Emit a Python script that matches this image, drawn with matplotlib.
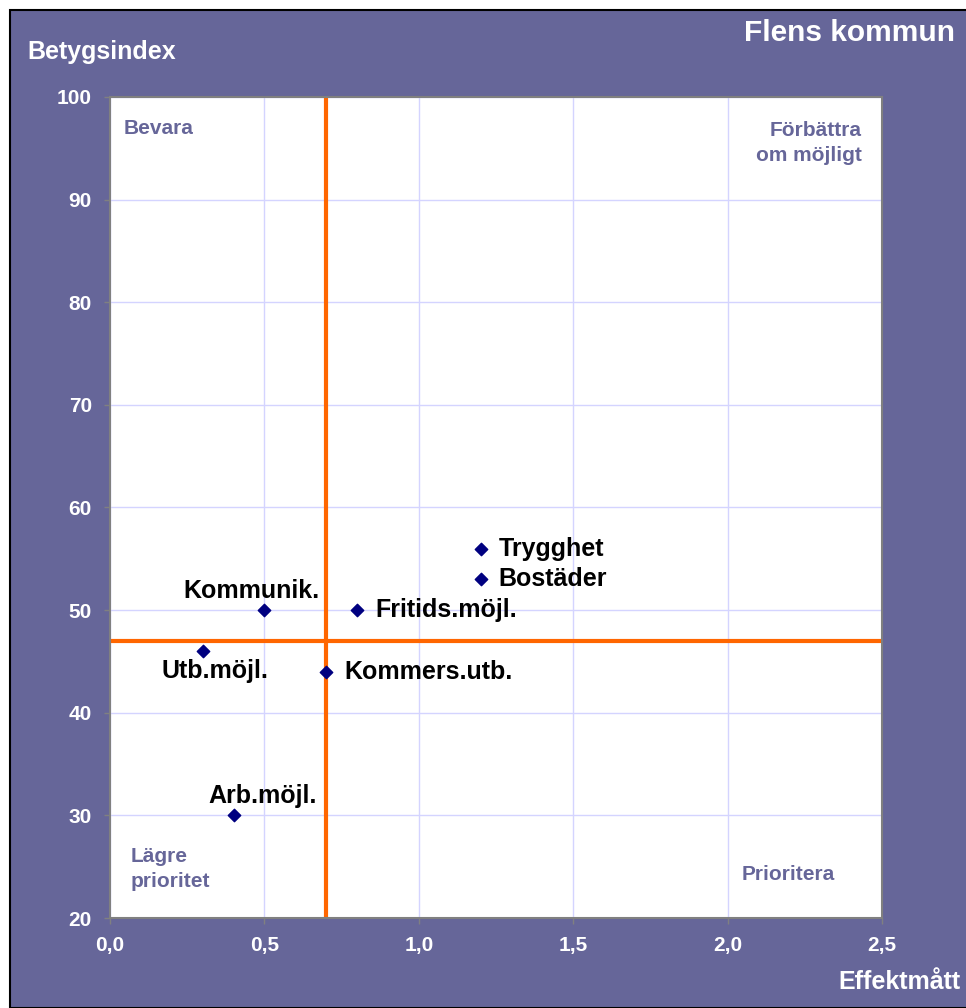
import matplotlib.pyplot as plt
from matplotlib.patches import Rectangle

plt.rcParams['font.family'] = ['Liberation Sans', 'DejaVu Sans']
plt.rcParams['font.weight'] = 'bold'

# data
labels = ["Trygghet", "Bostäder", "Kommunik.", "Fritids.möjl.", "Utb.möjl.", "Kommers.utb.", "Arb.möjl."]
effekt = [1.2, 1.2, 0.5, 0.8, 0.3, 0.7, 0.4]
betyg = [56, 53, 50, 50, 46, 44, 30]
mean_x = 0.7
mean_y = 47
xticks = [0.0, 0.5, 1.0, 1.5, 2.0, 2.5]
yticks = [20, 30, 40, 50, 60, 70, 80, 90, 100]

BG = "#666699"
ORANGE = "#FF6600"
NAVY = "#000080"
GRID = "#D4D4FF"

W, H = 966, 1008
fig = plt.figure(figsize=(W / 100, H / 100), dpi=100)
fig.patch.set_facecolor("white")
bg = Rectangle((10 / W, 0), 1, 1 - 10 / H, transform=fig.transFigure,
               facecolor=BG, edgecolor="black", linewidth=1.5, zorder=-10)
fig.add_artist(bg)

ax = fig.add_axes([110 / W, 1 - 918 / H, (882 - 110) / W, (918 - 97) / H])
ax.set_zorder(5)
ax.set_facecolor("white")
ax.set_xlim(0, 2.5)
ax.set_ylim(20, 100)
ax.set_xticks(xticks)
ax.set_yticks(yticks)
ax.set_xticklabels([f"{v:.1f}".replace(".", ",") for v in xticks])
ax.set_yticklabels([str(v) for v in yticks])
ax.tick_params(colors="#808080", labelcolor="white", labelsize=15, length=4, width=1)
ax.tick_params(axis="x", pad=9)
ax.tick_params(axis="y", pad=9)
for lab in ax.get_xticklabels() + ax.get_yticklabels():
    lab.set_fontweight("bold")
ax.grid(True, color=GRID, linewidth=1)
ax.set_axisbelow(True)
for s in ax.spines.values():
    s.set_color("#808080")
    s.set_linewidth(1.5)

ax.axvline(mean_x, color=ORANGE, linewidth=3, zorder=2)
ax.axhline(mean_y, color=ORANGE, linewidth=3, zorder=2)
ax.scatter(effekt, betyg, marker="D", s=40, color=NAVY, zorder=3)

# label offsets (points)
offsets = {
    "Trygghet": (13, 0, "left", "center"),
    "Bostäder": (13, 0, "left", "center"),
    "Kommunik.": (40, 14, "right", "center"),
    "Fritids.möjl.": (13, 0, "left", "center"),
    "Utb.möjl.": (47, -14, "right", "center"),
    "Kommers.utb.": (13, 0, "left", "center"),
    "Arb.möjl.": (60, 14, "right", "center"),
}
for name, x, y in zip(labels, effekt, betyg):
    dx, dy, ha, va = offsets[name]
    ax.annotate(name, (x, y), xytext=(dx, dy), textcoords="offset points",
                ha=ha, va=va, fontsize=18, fontweight="bold", color="black", zorder=4)

qkw = dict(fontsize=15, fontweight="bold", color=BG, transform=ax.transAxes)
ax.text(14 / 772, 1 - 31 / 821, "Bevara", ha="left", va="center", **qkw)
ax.text(1 - 20 / 772, 1 - 46 / 821, "Förbättra\nom möjligt", ha="right", va="center",
        linespacing=1.35, **qkw)
ax.text(21 / 772, 1 - 772 / 821, "Lägre\nprioritet", ha="left", va="center",
        linespacing=1.35, **qkw)
ax.text(1 - 47 / 772, 1 - 778 / 821, "Prioritera", ha="right", va="center", **qkw)

fig.text(27 / W, 1 - 52 / H, "Betygsindex", ha="left", va="center",
         fontsize=18, fontweight="bold", color="white")
fig.text(955 / W, 1 - 33 / H, "Flens kommun", ha="right", va="center",
         fontsize=21.5, fontweight="bold", color="white")
fig.text(960 / W, 1 - 982 / H, "Effektmått", ha="right", va="center",
         fontsize=18, fontweight="bold", color="white")

fig.savefig("out.png", dpi=100, facecolor=fig.get_facecolor())
